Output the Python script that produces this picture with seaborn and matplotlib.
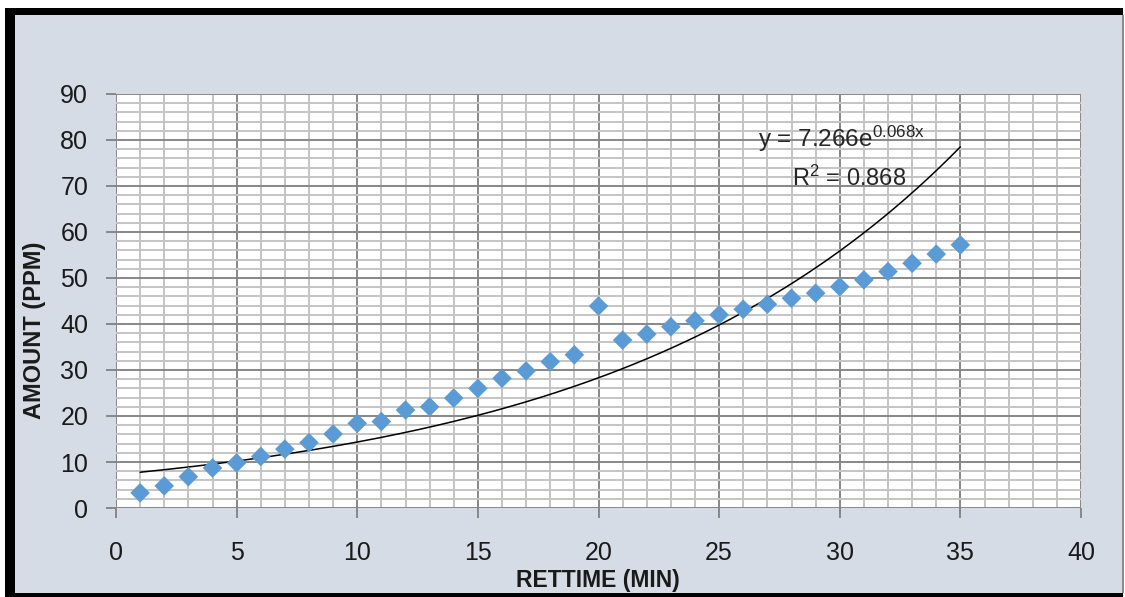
import matplotlib
matplotlib.use("Agg")
import matplotlib.pyplot as plt
from matplotlib.patches import Rectangle
from matplotlib.ticker import MultipleLocator
import numpy as np
import seaborn as sns

# data
rettime = [1, 2, 3, 4, 5, 6, 7, 8, 9, 10, 11, 12, 13, 14, 15, 16, 17, 18,
           19, 20, 21, 22, 23, 24, 25, 26, 27, 28, 29, 30, 31, 32, 33, 34, 35]
amount = [3.3, 4.8, 6.8, 8.7, 9.8, 11.2, 12.8, 14.2, 16.1, 18.4, 18.8, 21.3,
          22.0, 23.9, 26.0, 28.2, 29.8, 31.8, 33.3, 43.9, 36.5, 37.8, 39.4,
          40.7, 42.0, 43.2, 44.3, 45.6, 46.7, 48.1, 49.6, 51.4, 53.2, 55.2, 57.2]

# exponential trendline as printed on the chart
trend_a = 7.266
trend_b = 0.068
trend_r2 = 0.868

sns.set_style("white")
plt.rcParams['font.family'] = ['Liberation Sans', 'DejaVu Sans']
plt.rcParams['mathtext.fontset'] = 'custom'
plt.rcParams['mathtext.rm'] = 'Liberation Sans'
plt.rcParams['mathtext.it'] = 'Liberation Sans'

W, H = 1125, 597
fig = plt.figure(figsize=(W / 100, H / 100), dpi=100, facecolor='white')

def px_rect(x0, y0, x1, y1, **kw):
    # rectangle given in image pixels (top-down)
    r = Rectangle((x0 / W, 1 - y1 / H), (x1 - x0) / W, (y1 - y0) / H,
                  transform=fig.transFigure, zorder=-5, linewidth=0, **kw)
    fig.patches.append(r)

bg = '#D6DCE5'
px_rect(15, 15, 1123, 593, facecolor=bg)
px_rect(5, 8, 1123, 15, facecolor='black')
px_rect(5, 8, 15, 597, facecolor='black')
px_rect(5, 593, 1123, 597, facecolor='black')
px_rect(1122, 15, 1124, 593, facecolor='#8C8C8C')

left, right, top, bottom = 116, 1081, 94, 508
ax = fig.add_axes([left / W, 1 - bottom / H, (right - left) / W, (bottom - top) / H])
ax.set_facecolor('white')

xt = np.linspace(1, 35, 300)
sns.lineplot(x=xt, y=trend_a * np.exp(trend_b * xt), color='black', lw=1.1, ax=ax, zorder=3)
sns.scatterplot(x=rettime, y=amount, marker='D', s=100, color='#5B9BD5',
                edgecolor='none', ax=ax, zorder=4)

ax.set_xlim(0, 40)
ax.set_ylim(0, 90)
ax.xaxis.set_major_locator(MultipleLocator(5))
ax.xaxis.set_minor_locator(MultipleLocator(1))
ax.yaxis.set_major_locator(MultipleLocator(10))
ax.yaxis.set_minor_locator(MultipleLocator(2))
ax.grid(which='minor', color='#C4C4C4', lw=1.4, zorder=0)
ax.grid(which='major', color='#878787', lw=1.4, zorder=1)
ax.set_axisbelow(True)
for s in ax.spines.values():
    s.set_visible(False)
ax.tick_params(which='major', direction='out', length=7, width=1.4, color='#878787',
               labelsize=18, labelcolor='#1a1a1a', left=True, bottom=True)
ax.tick_params(axis='y', pad=13)
ax.tick_params(axis='x', pad=17)
ax.tick_params(which='minor', length=0)
ax.set_xlabel('')
ax.set_ylabel('')

fig.text(598 / W, 1 - 581 / H, 'RETTIME (MIN)', ha='center', va='center',
         fontsize=16.5, fontweight='bold', color='#1a1a1a')
fig.text(35 / W, 1 - 330 / H, 'AMOUNT (PPM)', ha='center', va='center',
         rotation=90, fontsize=17, fontweight='bold', color='#1a1a1a')

ax.text(26.6, 80.3, r'y = 7.266e$^{%.3f\mathrm{x}}$' % trend_b, ha='left', va='center',
        fontsize=17.5, color='#262626', zorder=5)
ax.text(30.4, 71.7, r'R$^{2}$ = %.3f' % trend_r2, ha='center', va='center',
        fontsize=17, color='#262626', zorder=5)

plt.savefig('out.png', dpi=100, facecolor=fig.get_facecolor())
